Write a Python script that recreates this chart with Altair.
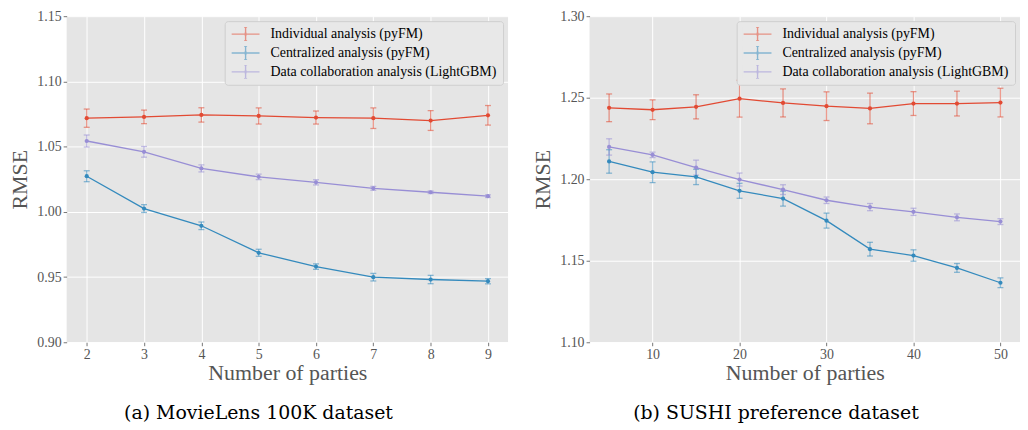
import altair as alt
import pandas as pd

methods = ["Individual analysis (pyFM)", "Centralized analysis (pyFM)",
           "Data collaboration analysis (LightGBM)"]
colors = ["#E24A33", "#348ABD", "#988ED5"]

# (a) MovieLens 100K
x_a = [2, 3, 4, 5, 6, 7, 8, 9]
ind_a = [1.0718, 1.0728, 1.0743, 1.0735, 1.0723, 1.0718, 1.0700, 1.0740]
ind_a_err = [0.0070, 0.0052, 0.0055, 0.0062, 0.0050, 0.0079, 0.0076, 0.0075]
cen_a = [1.0273, 1.0025, 0.9893, 0.9686, 0.9580, 0.9499, 0.9481, 0.9468]
cen_a_err = [0.0042, 0.0030, 0.0029, 0.0027, 0.0021, 0.0029, 0.0032, 0.0020]
dc_a = [1.0543, 1.0460, 1.0333, 1.0268, 1.0226, 1.0180, 1.0150, 1.0120]
dc_a_err = [0.0046, 0.0041, 0.0027, 0.0021, 0.0020, 0.0015, 0.0010, 0.0010]

# (b) SUSHI preference
x_b = [5, 10, 15, 20, 25, 30, 35, 40, 45, 50]
ind_b = [1.2438, 1.2426, 1.2444, 1.2494, 1.2468, 1.2448, 1.2434, 1.2464, 1.2464, 1.2470]
ind_b_err = [0.0085, 0.0061, 0.0074, 0.0113, 0.0086, 0.0088, 0.0094, 0.0073, 0.0076, 0.0088]
cen_b = [1.2109, 1.2043, 1.2014, 1.1929, 1.1881, 1.1746, 1.1571, 1.1532, 1.1456, 1.1365]
cen_b_err = [0.0072, 0.0064, 0.0047, 0.0046, 0.0046, 0.0046, 0.0042, 0.0035, 0.0027, 0.0030]
dc_b = [1.2198, 1.2149, 1.2071, 1.1998, 1.1936, 1.1871, 1.1829, 1.1800, 1.1766, 1.1740]
dc_b_err = [0.0050, 0.0017, 0.0046, 0.0040, 0.0030, 0.0020, 0.0022, 0.0022, 0.0021, 0.0018]

ticks_x_a = [2, 3, 4, 5, 6, 7, 8, 9]
ticks_y_a = [0.90, 0.95, 1.00, 1.05, 1.10, 1.15]
ticks_x_b = [10, 20, 30, 40, 50]
ticks_y_b = [1.10, 1.15, 1.20, 1.25, 1.30]

caption_a = "(a) MovieLens 100K dataset"
caption_b = "(b) SUSHI preference dataset"

SERIF = "Liberation Serif"


def make_df(xs, series):
    rows = []
    for m, (vals, errs) in zip(methods, series):
        for x, v, e in zip(xs, vals, errs):
            rows.append({"parties": x, "method": m, "rmse": v,
                         "lo": v - e, "hi": v + e})
    return pd.DataFrame(rows)


df_a = make_df(x_a, [(ind_a, ind_a_err), (cen_a, cen_a_err), (dc_a, dc_a_err)])
df_b = make_df(x_b, [(ind_b, ind_b_err), (cen_b, cen_b_err), (dc_b, dc_b_err)])

legend_path = ("M-1,0H1M0,-0.5V0.5M-0.11,-0.5H0.11M-0.11,0.5H0.11"
               "M-0.07,-0.07H0.07M-0.07,0H0.07M-0.07,0.07H0.07")

legend = alt.Legend(
    title=None, orient="top-right", offset=5,
    symbolType=legend_path, symbolSize=784, symbolStrokeWidth=1.4,
    clipHeight=14, rowPadding=5, labelOffset=10, padding=6,
    labelFont=SERIF, labelFontSize=14, labelColor="black",
    labelLimit=400, fillColor="#E8E8E8", strokeColor="#CFCFCF",
    cornerRadius=3,
)
color = alt.Color("method:N", scale=alt.Scale(domain=methods, range=colors),
                  legend=legend, sort=methods)


def panel(df, xdom, xvals, ydom, yvals, caption, w, h):
    xenc = alt.X("parties:Q", scale=alt.Scale(domain=xdom, nice=False, zero=False),
                 axis=alt.Axis(values=xvals, format="d", title="Number of parties"))
    yscale = alt.Scale(domain=ydom, nice=False, zero=False)
    yaxis = alt.Axis(values=yvals, format=".2f", title="RMSE")
    base = alt.Chart(df).encode(x=xenc, color=color)
    bars = base.mark_rule(strokeWidth=1.3, opacity=0.55).encode(
        y=alt.Y("lo:Q", scale=yscale, axis=yaxis), y2="hi:Q")
    cap_lo = base.mark_tick(orient="horizontal", size=6, thickness=1.3, opacity=0.55).encode(
        y=alt.Y("lo:Q", scale=yscale, axis=yaxis))
    cap_hi = base.mark_tick(orient="horizontal", size=6, thickness=1.3, opacity=0.55).encode(
        y=alt.Y("hi:Q", scale=yscale, axis=yaxis))
    line = base.mark_line(strokeWidth=1.3).encode(
        y=alt.Y("rmse:Q", scale=yscale, axis=yaxis), order="parties:Q")
    pts = base.mark_point(filled=True, size=18, opacity=1, shape="circle").encode(
        y=alt.Y("rmse:Q", scale=yscale, axis=yaxis))
    return alt.layer(bars, cap_lo, cap_hi, line, pts).properties(
        width=w, height=h,
        title=alt.TitleParams(caption, orient="bottom", anchor="middle",
                              frame="bounds", offset=21),
    )


left = panel(df_a, [1.65, 9.35], ticks_x_a, [0.90, 1.15], ticks_y_a, caption_a, 444, 328)
right = panel(df_b, [2.75, 52.25], ticks_x_b, [1.10, 1.30], ticks_y_b, caption_b, 433, 328)

chart = alt.hconcat(left, right, spacing=24).resolve_scale(
    color="independent").resolve_legend(color="independent").properties(
    padding={"left": 1, "top": 0, "right": 0, "bottom": 0}
).configure(font=SERIF).configure_view(fill="#E5E5E5", strokeWidth=0).configure_axis(
    domain=False, tickColor="#555555", tickSize=3.5, tickWidth=0.8,
    labelColor="#555555", labelFont=SERIF, labelFontSize=14,
    labelPadding=2, titleFont=SERIF, titleFontSize=22,
    titleColor="#555555", titleFontWeight="normal",
    gridColor="white", gridOpacity=1, gridWidth=1,
).configure_axisX(titlePadding=1).configure_axisY(titlePadding=5).configure_legend(
    labelFont=SERIF
).configure_title(
    font="DejaVu Serif", fontSize=19, fontWeight="normal", color="black",
)

chart.save("out.html", embed_options={"renderer": "svg", "actions": False})
